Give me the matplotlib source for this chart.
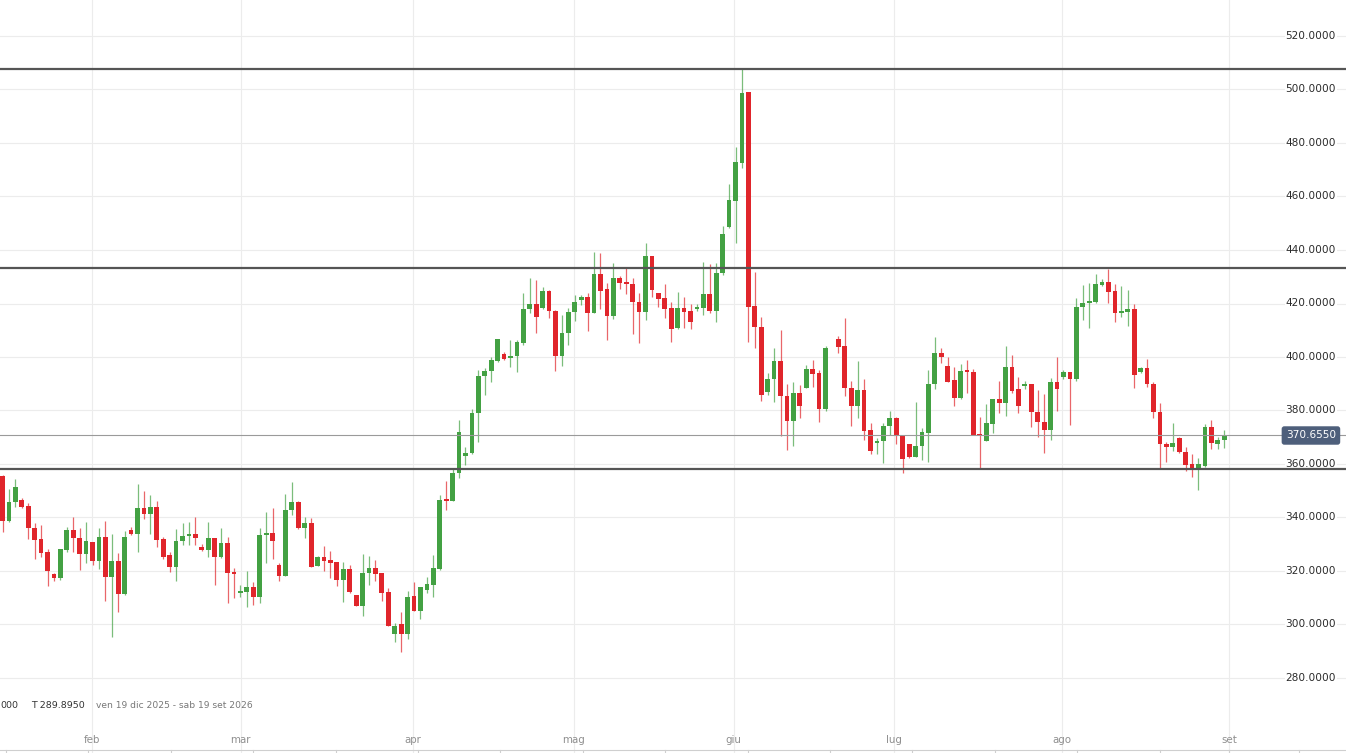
import numpy as np
import matplotlib
matplotlib.use("Agg")
import matplotlib.pyplot as plt
import matplotlib.transforms as mtransforms

# ---------------- data ----------------
opens = [355.5, 338.7, 345.9, 346.4, 344.3, 336.1, 331.8, 327.0, 318.8, 317.3,
         327.9, 335.3, 332.5, 326.5, 330.7, 323.9, 332.8, 317.9, 323.6, 311.4,
         335.3, 333.7, 343.4, 341.3, 344.1, 331.8, 326.0, 321.4, 331.3, 333.1,
         333.8, 329.0, 327.9, 332.2, 325.1, 330.3, 319.4, 311.9, 312.0, 314.1,
         310.4, 333.3, 334.1, 322.2, 318.1, 342.8, 345.9, 336.2, 337.8, 321.9,
         325.1, 324.1, 323.2, 316.6, 320.6, 311.0, 307.0, 319.1, 321.0, 319.1,
         312.0, 296.4, 300.0, 296.4, 310.7, 305.2, 312.9, 314.8, 320.6, 346.8,
         346.3, 356.8, 363.0, 364.0, 379.2, 392.9, 394.9, 398.6, 401.1, 399.6,
         400.4, 405.4, 417.8, 419.8, 418.2, 424.8, 417.3, 400.4, 409.1, 416.9,
         421.3, 422.6, 416.6, 430.9, 425.3, 415.3, 429.7, 427.9, 427.3, 420.7,
         416.7, 437.8, 424.0, 421.9, 418.4, 410.7, 418.2, 417.3, 417.9, 418.4,
         423.5, 417.3, 431.3, 448.5, 458.3, 472.6, 498.9, 419.1, 411.3, 387.0,
         391.6, 398.6, 385.4, 376.2, 386.4, 388.5, 395.4, 393.9, 380.7, None,
         406.6, 404.1, 388.3, 381.7, 387.7, 372.7, 367.7, 368.6, 374.2, 377.1,
         370.8, 367.3, 362.7, 366.8, 371.7, 389.8, 401.6, 396.8, 391.4, 384.5,
         394.9, 394.5, 371.0, 368.6, 374.8, 384.2, 382.7, 396.4, 387.9, 389.3,
         389.8, 379.6, 375.8, 372.7, 390.5, 392.6, 394.3, 391.7, 418.6, 420.1,
         420.4, 426.9, 428.2, 424.7, 416.3, 417.0, 417.8, 394.5, 396.0, 389.9,
         379.6, 367.5, 366.5, 369.8, 364.6, 360.0, 358.1, 359.4, 373.7, 367.5,
         368.8]
highs = [356.0, 350.5, 354.4, 347.2, 345.3, 337.8, 337.1, 328.1, 319.1, 328.4,
         336.6, 340.1, 336.0, 338.3, 330.9, 336.0, 338.8, 333.8, 326.6, 335.1,
         336.6, 352.4, 350.0, 348.4, 346.3, 332.6, 327.2, 335.7, 338.1, 338.4,
         340.1, 330.0, 338.4, 332.4, 336.0, 332.8, 321.0, 314.8, 320.1, 316.0,
         336.0, 342.2, 343.4, 322.9, 348.7, 353.1, 346.0, 340.3, 339.7, 325.5,
         329.3, 327.6, 323.3, 323.2, 322.2, 311.1, 326.4, 325.7, 324.1, 319.2,
         313.5, 300.4, 304.8, 312.5, 315.8, 314.2, 317.9, 326.0, 348.4, 353.6,
         358.4, 376.4, 366.5, 380.6, 395.1, 395.8, 399.9, 406.7, 401.7, 406.4,
         406.4, 423.8, 429.4, 428.8, 426.0, 424.9, 417.4, 415.7, 418.2, 423.2,
         423.2, 423.8, 439.4, 438.8, 427.5, 435.0, 430.3, 433.5, 429.4, 424.0,
         442.7, 437.9, 424.1, 427.2, 420.7, 424.2, 422.3, 419.7, 419.7, 435.6,
         434.8, 435.0, 449.0, 464.5, 478.6, 507.7, 499.2, 431.9, 415.1, 393.9,
         403.2, 410.1, 389.9, 390.8, 389.5, 397.0, 398.9, 395.1, 404.1, None,
         407.9, 414.7, 391.0, 398.5, 391.8, 375.5, 369.8, 375.5, 379.8, 377.7,
         370.9, 367.5, 383.3, 373.3, 395.1, 407.6, 403.2, 399.9, 396.4, 397.4,
         398.9, 395.5, 377.4, 382.4, 384.3, 391.0, 404.2, 400.7, 392.4, 391.0,
         389.9, 387.7, 386.0, 392.0, 399.9, 395.1, 394.5, 421.9, 426.9, 427.5,
         430.9, 429.2, 432.9, 427.2, 426.5, 425.0, 419.8, 396.1, 399.2, 390.5,
         382.9, 368.4, 375.2, 370.2, 366.2, 363.6, 362.1, 374.8, 376.4, 370.0,
         372.7]
lows = [334.7, 338.2, 344.1, 343.4, 332.0, 324.4, 325.1, 314.4, 316.4, 316.6,
        327.2, 327.0, 320.4, 322.9, 322.2, 320.8, 308.7, 295.5, 304.8, 311.2,
        333.5, 327.2, 339.4, 333.8, 329.1, 324.5, 319.7, 316.4, 329.7, 329.7,
        329.7, 327.5, 325.4, 314.8, 325.0, 307.9, 309.8, 310.4, 306.7, 307.3,
        308.2, 323.1, 324.5, 316.4, 318.0, 340.9, 335.6, 332.2, 321.5, 321.8,
        320.1, 317.3, 314.5, 308.5, 311.9, 306.9, 303.3, 314.8, 316.4, 308.8,
        299.5, 293.6, 289.9, 294.6, 305.1, 302.0, 311.7, 310.4, 320.5, 342.8,
        346.2, 354.6, 359.6, 363.9, 368.3, 385.8, 390.8, 398.3, 398.9, 396.1,
        394.5, 404.5, 416.3, 408.8, 418.1, 414.7, 394.9, 396.6, 404.5, 413.5,
        419.4, 409.7, 416.5, 417.8, 406.4, 414.1, 425.3, 423.4, 408.6, 405.1,
        413.8, 422.3, 418.6, 414.5, 405.7, 410.6, 410.7, 410.3, 417.3, 415.7,
        416.3, 413.2, 430.6, 448.4, 442.5, 470.5, 405.5, 403.2, 383.7, 385.8,
        383.0, 370.5, 365.2, 366.7, 377.1, 388.4, 388.7, 375.8, 379.8, None,
        401.6, 385.4, 374.2, 377.1, 369.0, 363.6, 363.6, 360.5, 370.8, 367.5,
        356.8, 362.4, 362.6, 361.5, 360.6, 387.9, 397.6, 390.7, 381.7, 384.4,
        386.4, 370.7, 358.0, 368.5, 371.7, 379.2, 377.9, 386.4, 378.9, 387.9,
        373.7, 370.0, 364.2, 369.0, 379.9, 391.7, 374.6, 391.2, 413.8, 411.0,
        420.1, 426.5, 420.3, 413.2, 414.8, 411.6, 388.5, 394.1, 388.7, 377.1,
        358.0, 360.6, 365.0, 364.0, 357.5, 355.3, 350.3, 358.8, 365.5, 365.6,
        365.9]
closes = [338.7, 345.9, 351.3, 344.1, 335.9, 331.6, 326.9, 320.0, 317.3, 328.4,
          335.3, 332.2, 326.2, 331.3, 323.9, 332.7, 317.9, 323.6, 311.4, 332.6,
          333.7, 343.4, 341.3, 343.9, 331.6, 325.1, 321.4, 331.3, 333.1, 333.8,
          332.5, 327.9, 332.2, 325.4, 330.3, 319.1, 319.0, 312.3, 313.9, 310.4,
          333.5, 334.1, 331.3, 318.1, 342.8, 345.9, 336.2, 337.8, 321.6, 325.4,
          323.7, 322.9, 316.6, 320.6, 312.0, 307.0, 319.1, 321.0, 318.9, 311.9,
          299.6, 299.6, 296.4, 310.4, 305.2, 314.1, 315.0, 321.0, 346.5, 346.3,
          356.8, 372.1, 364.0, 379.2, 393.0, 394.9, 398.9, 406.6, 399.3, 400.4,
          405.7, 417.8, 419.8, 415.1, 424.8, 417.2, 400.4, 409.1, 416.9, 420.4,
          422.6, 416.6, 430.9, 424.8, 415.3, 429.7, 427.5, 427.2, 420.4, 416.7,
          437.8, 425.0, 421.7, 417.9, 410.5, 418.2, 416.7, 412.9, 418.8, 423.5,
          417.3, 431.3, 445.9, 458.7, 473.0, 498.6, 418.6, 411.1, 385.8, 391.8,
          398.6, 385.4, 376.2, 386.4, 381.7, 395.4, 393.6, 380.7, 403.3, None,
          403.9, 388.3, 381.7, 387.7, 372.5, 364.9, 368.7, 374.2, 377.1, 370.6,
          361.7, 362.5, 366.8, 371.8, 389.9, 401.4, 399.9, 390.8, 384.5, 394.9,
          394.4, 370.8, 370.7, 375.2, 384.2, 382.7, 396.4, 387.4, 381.8, 389.8,
          379.4, 375.6, 372.7, 390.5, 388.0, 394.3, 391.7, 418.8, 420.3, 420.9,
          427.3, 428.2, 424.4, 416.3, 417.3, 417.8, 393.3, 395.8, 389.8, 379.6,
          367.4, 366.5, 367.7, 364.4, 359.6, 358.1, 359.9, 373.7, 368.0, 369.0,
          370.655]

month_labels = ["feb", "mar", "apr", "mag", "giu", "lug", "ago", "set"]
month_pos = [13.97, 37.04, 63.79, 88.83, 113.72, 138.69, 164.73, 190.79]

price_ticks = [280, 300, 320, 340, 360, 380, 400, 420, 440, 460, 480, 500, 520]
levels = [507.6, 433.2, 358.1]
last_price = 370.655

info_parts = ["000", "T 289.8950", "ven 19 dic 2025 - sab 19 set 2026"]

# ---------------- figure ----------------
W, H = 1346, 753
fig = plt.figure(figsize=(W / 100, H / 100), dpi=100)
fig.patch.set_facecolor("white")
ax = fig.add_axes([0, 0, 1, 1])
ax.set_facecolor("white")
for s in ax.spines.values():
    s.set_visible(False)
ax.set_xticks([])
ax.set_yticks([])

pitch = 6.43
x0 = 2.5
ax.set_xlim(-x0 / pitch, (W - x0) / pitch)
ppu = 2.675
ax.set_ylim(360 - (H - 464) / ppu, 360 + 464 / ppu)

def f(v):
    return np.nan if v is None else v

o = np.array([f(v) for v in opens], dtype=float)
h = np.array([f(v) for v in highs], dtype=float)
l = np.array([f(v) for v in lows], dtype=float)
c = np.array([f(v) for v in closes], dtype=float)
idx = np.arange(len(o))
valid = ~np.isnan(o)

# grid
grid_c = "#ececec"
for v in price_ticks:
    ax.axhline(v, color=grid_c, lw=0.8, zorder=0)
for p in month_pos:
    ax.axvline(p, color=grid_c, lw=0.8, zorder=0)

# candles
green = "#43a143"
red = "#e0252b"
up = valid & (c >= o)
dn = valid & (c < o)
for mask, col in ((up, green), (dn, red)):
    ax.vlines(idx[mask], l[mask], h[mask], color=col, lw=0.9, alpha=0.7, zorder=2)
    bottoms = np.minimum(o[mask], c[mask])
    heights = np.maximum(np.abs(c[mask] - o[mask]), 0.6)
    ax.bar(idx[mask], heights, bottom=bottoms, width=0.74, color=col,
           linewidth=0, zorder=3)

# price line
ax.axhline(last_price, color="#9a9a9a", lw=0.8, zorder=4)

# right axis labels
tr = mtransforms.blended_transform_factory(ax.transAxes, ax.transData)
xr = 1336 / W
for v in price_ticks:
    ax.text(xr, v, f"{v:.4f}", transform=tr, ha="right", va="center",
            fontsize=7.6, color="#2b2b2b", family="DejaVu Sans", zorder=5,
            bbox=dict(boxstyle="square,pad=0.05", fc="white", ec="none"))

# level lines
for lv in levels:
    ax.axhline(lv, color="#555555", lw=1.6, zorder=6)

ax.text(xr, last_price, f"{last_price:.4f}", transform=tr, ha="right", va="center",
        fontsize=7.6, color="white", family="DejaVu Sans", zorder=7,
        bbox=dict(boxstyle="round,pad=0.4,rounding_size=0.25", fc="#4e5f7b", ec="none"))

# month labels
trm = mtransforms.blended_transform_factory(ax.transData, ax.transAxes)
for lab, p in zip(month_labels, month_pos):
    ax.text(p, 1 - 740 / H, lab, transform=trm, ha="center", va="center",
            fontsize=7.4, color="#8f8f8f", family="DejaVu Sans")

# info text bottom-left
fig.text(0 / W, 1 - 706 / H, info_parts[0], ha="left", va="center",
         fontsize=6.8, color="#333333", family="DejaVu Sans")
fig.text(31 / W, 1 - 706 / H, info_parts[1], ha="left", va="center",
         fontsize=6.8, color="#333333", family="DejaVu Sans")
fig.text(96 / W, 1 - 706 / H, info_parts[2], ha="left", va="center",
         fontsize=6.6, color="#777777", family="DejaVu Sans")

# bottom navigator line with ticks
yb = 1 - 749.5 / H
fig.add_artist(plt.Line2D([0, 1], [yb, yb], transform=fig.transFigure,
                          color="#cfcfcf", lw=0.8))
tick_px = [6 + 82.4 * k for k in range(15)] + [1229, 1299]
for tx in tick_px:
    fig.add_artist(plt.Line2D([tx / W, tx / W], [yb, 0], transform=fig.transFigure,
                              color="#cfcfcf", lw=0.8))

fig.savefig("out.png", dpi=100, facecolor="white")
